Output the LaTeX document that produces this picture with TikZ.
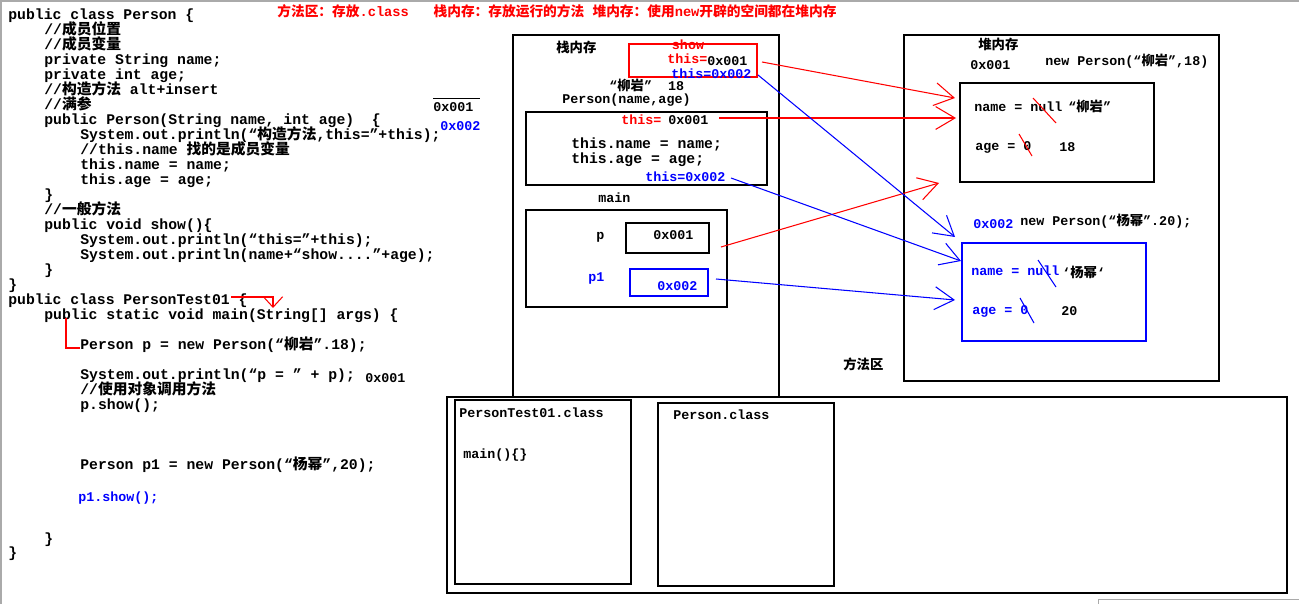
\documentclass[tikz,border=0pt]{standalone}
\usepackage{fontspec}
\setmonofont{Liberation Mono}
\newfontfamily\cjk{Noto Sans CJK SC}
\usetikzlibrary{arrows.meta}
\definecolor{memred}{RGB}{255,0,0}
\definecolor{memblue}{RGB}{0,0,255}
\definecolor{shotgray}{RGB}{170,170,170}

\begin{document}
\begin{tikzpicture}[x=0.02cm, y=-0.02cm,
  code/.style={anchor=west, inner sep=0, text height=1.5ex, text depth=0.4ex, font=\ttfamily\bfseries\fontsize{8.4}{8.4}\selectfont},
  lbl/.style={anchor=west, inner sep=0, text height=1.5ex, text depth=0.4ex, font=\ttfamily\bfseries\fontsize{7.6}{7.6}\selectfont},
  frame/.style={line width=1pt},
  ptr/.style={line width=0.6pt, -{Straight Barb[length=11pt, width=13pt]}}]

	\useasboundingbox (0,0) rectangle (1299,604);
	\fill[white] (0,0) rectangle (1299,604);
	\draw[shotgray, line width=1pt] (1,604) -- (1,1) -- (1299,1);
	\draw[shotgray] (1098,604) -- (1098,599) -- (1299,599);

	% note on top
	\node[lbl, memred, font=\ttfamily\bfseries\fontsize{7.8}{7.8}\selectfont] (memnote) at (277,12) {{\cjk 方法区：存放}.class~~~{\cjk 栈内存：存放运行的方法} {\cjk 堆内存：使用}new{\cjk 开辟的空间都在堆内存}};

	% source code
	\node[code] (c1) at (8,15) {public class Person \{};
	\node[code] (c2) at (44,30) {//{\cjk 成员位置}};
	\node[code] (c3) at (44,45) {//{\cjk 成员变量}};
	\node[code] (c4) at (44,60) {private String name;};
	\node[code] (c5) at (44,75) {private int age;};
	\node[code] (c6) at (44,90) {//{\cjk 构造方法} alt+insert};
	\node[code] (c7) at (44,105) {//{\cjk 满参}};
	\node[code] (c8) at (44,120) {public Person(String name, int age)~~\{};
	\node[code] (c9) at (80,135) {System.out.println(“{\cjk 构造方法},this=”+this);};
	\node[code] (c10) at (80,150) {//this.name {\cjk 找的是成员变量}};
	\node[code] (c11) at (80,165) {this.name = name;};
	\node[code] (c12) at (80,180) {this.age = age;};
	\node[code] (c13) at (44,195) {\}};
	\node[code] (c14) at (44,210) {//{\cjk 一般方法}};
	\node[code] (c15) at (44,225) {public void show()\{};
	\node[code] (c16) at (80,240) {System.out.println(“this=”+this);};
	\node[code] (c17) at (80,255) {System.out.println(name+“show....”+age);};
	\node[code] (c18) at (44,270) {\}};
	\node[code] (c19) at (8,285) {\}};
	\node[code] (c20) at (8,300) {public class PersonTest01 \{};
	\node[code] (c21) at (44,315) {public static void main(String[] args) \{};
	\node[code] (c22) at (80,345) {Person p = new Person(“{\cjk 柳岩}”.18);};
	\node[code] (c23) at (80,375) {System.out.println(“p = ” + p);};
	\node[code] (c24) at (80,390) {//{\cjk 使用对象调用方法}};
	\node[code] (c25) at (80,405) {p.show();};
	\node[code] (c26) at (80,465) {Person p1 = new Person(“{\cjk 杨幂}”,20);};
	\node[lbl, memblue] (c27) at (78,497) {p1.show();};
	\node[code] (c28) at (44,539) {\}};
	\node[code] (c29) at (8,553) {\}};

	\node[lbl] (addrp) at (433,107) {0x001};
	\draw (433,98) -- (480,98);
	\node[lbl, memblue] (addrp1) at (440,126) {0x002};
	\node[lbl] (printp) at (365,378) {0x001};
	\draw[memred, line width=0.6pt, -{Straight Barb[length=6pt, width=11pt]}] (231,297) -| (273,308);
	\draw[memred, line width=0.6pt] (66,318) |- (80,348);

	% stack
	\draw[frame] (513,35) rectangle (779,397);
	\node[lbl] (stackname) at (556,48) {\cjk 栈内存};
	\draw[memred, line width=0.8pt] (629,44) rectangle (757,77);
	\node[lbl, memred, anchor=center] (showname) at (688,45) {show};
	\node[lbl, memred] (showthis) at (667,59) {this=};
	\node[lbl] (showp) at (707,61) {0x001};
	\node[lbl, memblue] (showp1) at (671,74) {this=0x002};
	\node[lbl] (ctorargs) at (609,86) {“{\cjk 柳岩}”~~18};
	\node[lbl] (ctorname) at (562,99) {Person(name,age)};
	\draw[frame] (526,112) rectangle (767,185);
	\node[lbl, memred] (ctorthis) at (621,120) {this=};
	\node[lbl] (ctorp) at (668,120) {0x001};
	\node[code] (ctorset1) at (571,144) {this.name = name;};
	\node[code] (ctorset2) at (571,159) {this.age = age;};
	\node[lbl, memblue] (ctorp1) at (645,177) {this=0x002};
	\node[lbl] (mainname) at (598,198) {main};
	\draw[frame] (526,210) rectangle (727,307);
	\node[lbl] (pname) at (596,235) {p};
	\draw[frame] (626,223) rectangle (709,253);
	\node[lbl] (pval) at (653,235) {0x001};
	\node[lbl, memblue] (p1name) at (588,277) {p1};
	\draw[frame, memblue] (630,269) rectangle (708,296);
	\node[lbl, memblue] (p1val) at (657,286) {0x002};
	\node[lbl] (methodarea) at (843,365) {\cjk 方法区};

	% heap
	\draw[frame] (904,35) rectangle (1219,381);
	\node[lbl] (heapname) at (978,45) {\cjk 堆内存};
	\node[lbl] (addr1) at (970,65) {0x001};
	\node[lbl] (new1) at (1045,61) {new Person(“{\cjk 柳岩}”,18)};
	\draw[frame] (960,83) rectangle (1154,182);
	\node[lbl] (name1) at (974,107) {name = null};
	\node[lbl] (val1) at (1068,107) {“{\cjk 柳岩}”};
	\node[lbl] (age1) at (975,146) {age = 0};
	\node[lbl] (num1) at (1059,147) {18};
	\draw[memred, line width=0.6pt] (1033,98) -- (1056,123);
	\draw[memred, line width=0.6pt] (1019,134) -- (1032,156);

	\node[lbl, memblue] (addr2) at (973,224) {0x002};
	\node[lbl] (new2) at (1020,221) {new Person(“{\cjk 杨幂}”.20);};
	\draw[frame, memblue] (962,243) rectangle (1146,341);
	\node[lbl, memblue] (name2) at (971,271) {name = null};
	\node[lbl] (val2) at (1062,273) {‘{\cjk 杨幂}‘};
	\node[lbl, memblue] (age2) at (972,310) {age = 0};
	\node[lbl] (num2) at (1061,311) {20};
	\draw[memblue, line width=0.6pt] (1038,260) -- (1056,287);
	\draw[memblue, line width=0.6pt] (1020,298) -- (1034,323);

	% method area
	\draw[frame] (447,397) rectangle (1287,593);
	\draw[frame] (455,400) rectangle (631,584);
	\draw[frame] (658,403) rectangle (834,586);
	\node[lbl] (testclass) at (459,413) {PersonTest01.class};
	\node[lbl] (mainsig) at (463,454) {main()\{\}};
	\node[lbl] (personclass) at (673,415) {Person.class};

	% references
	\coordinate (r1a) at (762,62);
	\coordinate (r1b) at (955,98);
	\coordinate (r2a) at (719,118);
	\coordinate (r2b) at (956,118);
	\coordinate (r3a) at (721,247);
	\coordinate (r3b) at (939,183);
	\coordinate (b1a) at (758,75);
	\coordinate (b1b) at (955,237);
	\coordinate (b2a) at (731,178);
	\coordinate (b2b) at (961,261);
	\coordinate (b3a) at (716,279);
	\coordinate (b3b) at (955,300);
	\draw[ptr, memred] (r1a) -- (r1b);
	\draw[ptr, memred] (r2a) -- (r2b);
	\draw[ptr, memred] (r3a) -- (r3b);
	\draw[ptr, memblue] (b1a) -- (b1b);
	\draw[ptr, memblue] (b2a) -- (b2b);
	\draw[ptr, memblue] (b3a) -- (b3b);

\end{tikzpicture}
\end{document}
